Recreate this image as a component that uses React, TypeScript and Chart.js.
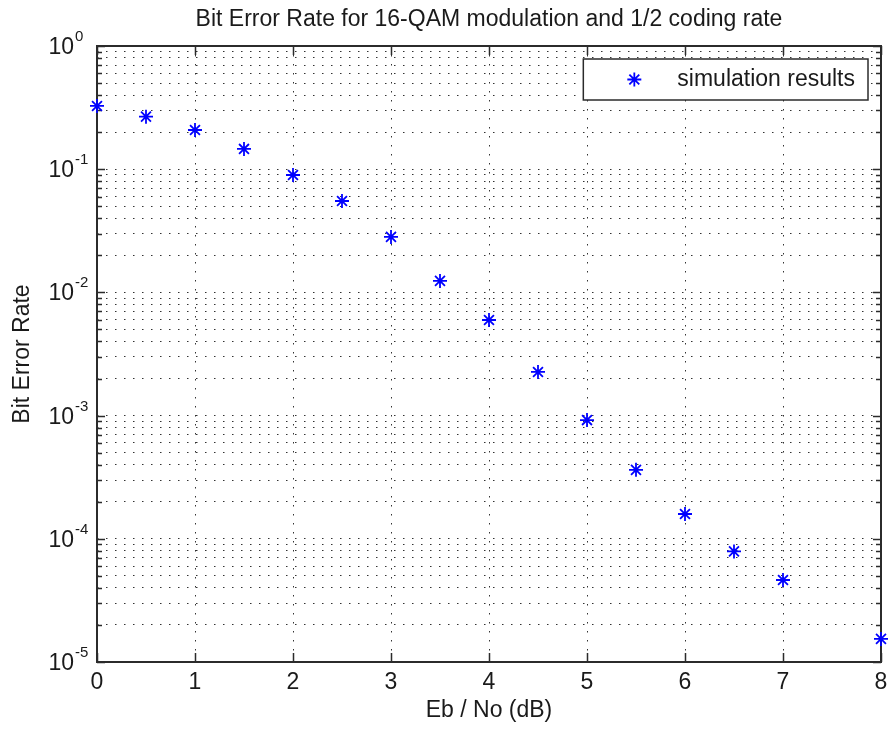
import React, { useEffect, useRef } from 'react';
import { Chart, registerables } from 'chart.js';

Chart.register(...registerables);

// ---- data ----
const ebNoDb = [0, 0.5, 1, 1.5, 2, 2.5, 3, 3.5, 4, 4.5, 5, 5.5, 6, 6.5, 7, 8];
const bitErrorRate = [
  0.326, 0.267, 0.208, 0.146, 0.0897, 0.0552, 0.0282, 0.0124, 0.00597, 0.00226,
  0.00092, 0.000363, 0.000159, 0.000079, 0.0000463, 0.0000154,
];
const xTickValues = [0, 1, 2, 3, 4, 5, 6, 7, 8];
const yDecadeExponents = [-5, -4, -3, -2, -1, 0];
const yMinorMultipliers = [2, 3, 4, 5, 6, 7, 8, 9];
const chartTitle = 'Bit Error Rate for 16-QAM modulation and 1/2 coding rate';
const xAxisTitle = 'Eb / No (dB)';
const yAxisTitle = 'Bit Error Rate';
const seriesName = 'simulation results';

const FONT = "'Liberation Sans', Arial, Helvetica, sans-serif";
const FS = 23;
const INK = '#1a1a1a';
const AXIS = '#2b2b2b';
const BLUE = '#0000ff';

function drawStar(ctx: CanvasRenderingContext2D, x: number, y: number, r: number) {
  const d = Math.cos(Math.PI / 4) * r;
  ctx.beginPath();
  ctx.moveTo(x - r, y);
  ctx.lineTo(x + r, y);
  ctx.moveTo(x, y - r);
  ctx.lineTo(x, y + r);
  ctx.moveTo(x - d, y - d);
  ctx.lineTo(x + d, y + d);
  ctx.moveTo(x - d, y + d);
  ctx.lineTo(x + d, y - d);
  ctx.stroke();
}

const matlabAxes = {
  id: 'matlabAxes',
  beforeDatasetsDraw(chart: any) {
    const { ctx, chartArea: a, scales } = chart;
    const xs = scales.x;
    const ys = scales.y;
    ctx.save();
    ctx.strokeStyle = AXIS;
    ctx.lineWidth = 1.5;
    ctx.beginPath();
    // y ticks inward on both sides
    for (const t of ys.ticks) {
      const lg = Math.log10(t.value);
      const major = Math.abs(lg - Math.round(lg)) < 1e-9;
      const len = major ? 8 : 5;
      const y = Math.round(ys.getPixelForValue(t.value)) + 0.5;
      ctx.moveTo(a.left, y);
      ctx.lineTo(a.left + len, y);
      ctx.moveTo(a.right, y);
      ctx.lineTo(a.right - len, y);
    }
    // x ticks inward on bottom and top
    for (const t of xs.ticks) {
      const x = Math.round(xs.getPixelForValue(t.value)) + 0.5;
      ctx.moveTo(x, a.bottom);
      ctx.lineTo(x, a.bottom - 9);
      ctx.moveTo(x, a.top);
      ctx.lineTo(x, a.top + 9);
    }
    ctx.stroke();
    // box
    ctx.lineWidth = 2;
    ctx.strokeRect(a.left, a.top, a.right - a.left, a.bottom - a.top);

    // y tick labels 10^k
    ctx.fillStyle = INK;
    for (const k of yDecadeExponents) {
      const y = ys.getPixelForValue(Math.pow(10, k));
      ctx.font = `${FS}px ${FONT}`;
      ctx.textAlign = 'right';
      ctx.textBaseline = 'alphabetic';
      ctx.fillText('10', a.left - 23, y + 8);
      ctx.font = `15px ${FONT}`;
      ctx.textAlign = 'left';
      ctx.fillText(String(k), a.left - 22, y - 5);
    }
    ctx.restore();
  },
  afterDraw(chart: any) {
    const { ctx, chartArea: a } = chart;
    ctx.save();
    ctx.font = `${FS}px ${FONT}`;
    const tw = ctx.measureText(seriesName).width;
    const boxRight = a.right - 13;
    const boxTop = a.top + 13;
    const boxH = 41;
    const boxW = 94 + tw + 13;
    const boxLeft = boxRight - boxW;
    ctx.fillStyle = '#ffffff';
    ctx.fillRect(boxLeft, boxTop, boxW, boxH);
    ctx.strokeStyle = AXIS;
    ctx.lineWidth = 1.5;
    ctx.strokeRect(boxLeft, boxTop, boxW, boxH);
    ctx.strokeStyle = BLUE;
    ctx.lineWidth = 1.8;
    drawStar(ctx, boxLeft + 51, boxTop + boxH / 2, 7);
    ctx.fillStyle = INK;
    ctx.textAlign = 'left';
    ctx.textBaseline = 'middle';
    ctx.fillText(seriesName, boxLeft + 94, boxTop + boxH / 2);
    ctx.restore();
  },
};

export default function App() {
  const canvasRef = useRef<HTMLCanvasElement | null>(null);

  useEffect(() => {
    const canvas = canvasRef.current;
    if (!canvas) return;
    const chart = new Chart(canvas, {
      type: 'scatter',
      data: {
        datasets: [
          {
            label: seriesName,
            data: ebNoDb.map((x, i) => ({ x, y: bitErrorRate[i] })),
            pointStyle: 'star',
            pointRadius: 7,
            pointHoverRadius: 7,
            borderColor: BLUE,
            backgroundColor: BLUE,
            borderWidth: 1.8,
            showLine: false,
            clip: false,
          } as any,
        ],
      },
      options: {
        responsive: false,
        animation: false,
        events: [],
        layout: { padding: { left: 0, right: 9, top: 0, bottom: 0 } },
        plugins: {
          legend: { display: false },
          tooltip: { enabled: false },
          title: {
            display: true,
            text: chartTitle,
            fullSize: false,
            color: INK,
            font: { family: FONT, size: FS, weight: 'normal' },
            padding: { top: 6, bottom: 12.4 },
          },
        },
        scales: {
          x: {
            type: 'linear',
            min: 0,
            max: 8,
            afterBuildTicks: (scale: any) => {
              scale.ticks = xTickValues.map((v) => ({ value: v }));
            },
            afterFit: (scale: any) => {
              scale.height = 69;
              scale.paddingLeft = 0;
              scale.paddingRight = 0;
            },
            ticks: {
              color: INK,
              font: { family: FONT, size: FS },
              padding: 7,
              maxRotation: 0,
              callback: (v: any) => String(v),
            },
            grid: { color: '#333333', lineWidth: 1, drawTicks: false },
            border: { display: false, dash: [1.5, 7.5] },
            title: {
              display: true,
              text: xAxisTitle,
              color: INK,
              font: { family: FONT, size: FS },
              padding: { top: 0, bottom: 7 },
            },
          },
          y: {
            type: 'logarithmic',
            min: 1e-5,
            max: 1,
            afterBuildTicks: (scale: any) => {
              const ticks: { value: number; major?: boolean }[] = [];
              for (const k of yDecadeExponents) {
                ticks.push({ value: Math.pow(10, k), major: true });
                if (k < 0) {
                  for (const m of yMinorMultipliers) ticks.push({ value: m * Math.pow(10, k) });
                }
              }
              ticks.sort((p, q) => p.value - q.value);
              scale.ticks = ticks;
            },
            afterFit: (scale: any) => {
              scale.width = 97;
              scale.paddingTop = 0;
              scale.paddingBottom = 0;
            },
            ticks: { display: false },
            grid: { color: '#333333', lineWidth: 1, drawTicks: false },
            border: { display: false, dash: [1.5, 7.5] },
            title: {
              display: true,
              text: yAxisTitle,
              color: INK,
              font: { family: FONT, size: FS },
              padding: { top: 9, bottom: 0 },
            },
          },
        },
      },
      plugins: [matlabAxes],
    });
    return () => chart.destroy();
  }, []);

  return (
    <div style={{ position: 'fixed', left: 0, top: 0, width: 890, height: 731, background: '#fff' }}>
      <canvas ref={canvasRef} width={890} height={731} style={{ display: 'block' }} />
    </div>
  );
}
